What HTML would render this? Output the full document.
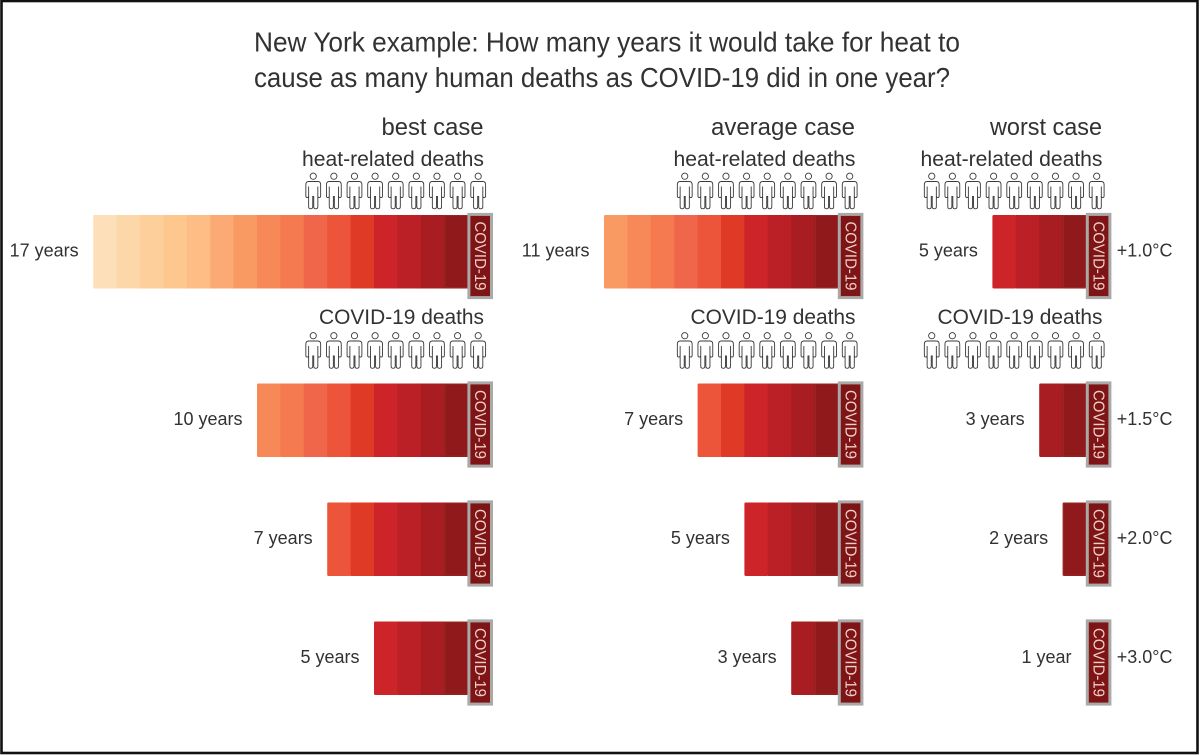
<!DOCTYPE html>
<html>
<head>
<meta charset="utf-8">
<title>New York example: heat vs COVID-19 deaths</title>
<style>
html,body{margin:0;padding:0;background:#fff;}
svg{display:block;}
text{font-family:"Liberation Sans",sans-serif;fill:#333132;}
</style>
</head>
<body>
<svg id="chart" xmlns="http://www.w3.org/2000/svg" width="1200" height="755" viewBox="0 0 1200 755">
  <rect x="0" y="0" width="1200" height="755" fill="#fff"/>
  <rect x="1.5" y="1" width="1196" height="752" fill="none" stroke="#111" stroke-width="2.6"/>
  <text x="254" y="51.5" font-size="28" textLength="706" lengthAdjust="spacingAndGlyphs">New York example: How many years it would take for heat to</text>
  <text x="254" y="87" font-size="28" textLength="696" lengthAdjust="spacingAndGlyphs">cause as many human deaths as COVID-19 did in one year?</text>
  <g id="panels"></g>
</svg>
<script>
const caseNames = ['best case', 'average case', 'worst case'];
const bestYears = [17, 10, 7, 5];
const averageYears = [11, 7, 5, 3];
const worstYears = [5, 3, 2, 1];
const warmingLabels = ['+1.0°C', '+1.5°C', '+2.0°C', '+3.0°C'];
const peopleCount = 9;
const palette = ['#8f191b','#a81d21','#ba2025','#cc2428','#df3a25','#ec5539','#f0664a','#f67a50',
                 '#f78858','#f99a63','#fbaa76','#fdbd85','#fdc78e','#fdd09b','#fcd8a8','#fde0b9'];

const NS = 'http://www.w3.org/2000/svg';
const step = 23.4;
const rowTops = [215, 383.5, 502.5, 621.5];
const barH = 73.5;
const panelRight = [467.6, 838, 1086];
const panelTextRight = [484, 855.5, 1102.5];
const caseTitleLengths = [102, 144, 112];

function yearX(right, years){ return right - (years - 1) * step; }
function mk(parent, tag, attrs){
  const el = document.createElementNS(NS, tag);
  for (const k in attrs) el.setAttribute(k, attrs[k]);
  parent.appendChild(el);
  return el;
}
function drawPerson(parent, cx, top){
  const g = mk(parent, 'g', {transform:'translate(' + cx + ',' + top + ')', fill:'none', stroke:'#3a3839', 'stroke-width':'0.9'});
  
  
  mk(g, 'circle', {cx:0, cy:4.2, r:3.1});
  mk(g, 'path', {d:'M-4.5 9.5H4.5Q7.4 9.5 7.4 12.6V24Q7.4 25.6 6 25.6Q4.6 25.6 4.6 24V14.5V34.8Q4.6 36.8 2.6 36.8Q0.5 36.8 0.5 34.8V24.5H-0.5V34.8Q-0.5 36.8 -2.6 36.8Q-4.6 36.8 -4.6 34.8V14.5V24Q-4.6 25.6 -6 25.6Q-7.4 25.6 -7.4 24V12.6Q-7.4 9.5 -4.5 9.5Z'});
}
function drawPeople(parent, textRight, top){
  for (let i = 0; i < peopleCount; i++) {
    drawPerson(parent, textRight - 5.8 - (peopleCount - 1 - i) * 20.62, top);
  }
}
function drawBar(parent, right, top, years){
  const g = mk(parent, 'g', {});
  
  
  for (let i = years - 2; i >= 0; i--) {
    const x = right - (i + 1) * step;
    const seg = mk(g, 'rect', {x:x, y:top, width:step + 0.4, height:barH, fill:palette[i], rx:(i === years - 2 ? 1.2 : 0)});
    
    
  }
  if (years > 1) {
    const outline = mk(g, 'rect', {x:right - step + 0.8, y:top + 0.5, width:step, height:barH - 1.5, fill:'none', stroke:'#a0302a', 'stroke-width':'0.8', opacity:'0.7'});
    
    
  }
  const bx = mk(g, 'rect', {x:right + 1.3, y:top - 0.6, width:22.6, height:83.2, fill:'#7f1416', stroke:'#aaa9a8', 'stroke-width':'3'});
  
  
  const cx = right + 12, cy = top + 41;
  const t = mk(g, 'text', {x:0, y:0, transform:'translate(' + cx + ',' + cy + ') rotate(90)', 'font-size':'15.5', 'text-anchor':'middle', 'dominant-baseline':'central', textLength:'69', lengthAdjust:'spacingAndGlyphs'});
  t.style.fill = '#edcfc8';
  t.textContent = 'COVID-19';
  
  
}
function addText(parent, x, y, size, str, name, len){
  const attrs = {x:x, y:y, 'font-size':size, 'text-anchor':'end'};
  if (len) { attrs.textLength = len; attrs.lengthAdjust = 'spacingAndGlyphs'; }
  const t = mk(parent, 'text', attrs);
  t.textContent = str;
  
  
  return t;
}

const root = document.getElementById('panels');
const allYears = [bestYears, averageYears, worstYears];
allYears.forEach(function(series, p){
  const g = mk(root, 'g', {});
  
  
  const right = panelRight[p];
  const tr = panelTextRight[p];
  addText(g, tr - 0.5, 135, 24, caseNames[p], 'case-title', caseTitleLengths[p]);
  addText(g, tr, 166, 21, 'heat-related deaths', 'heat-deaths-heading', 182);
  drawPeople(g, tr, 172);
  addText(g, tr, 324, 21, 'COVID-19 deaths', 'covid-deaths-heading', 165);
  drawPeople(g, tr, 331.5);
  series.forEach(function(years, r){
    const top = rowTops[r];
    drawBar(g, right, top, years);
    const left = yearX(right, years);
    addText(g, left - 14.5, top + 41.5, 18, years + (years === 1 ? ' year' : ' years'), 'years-label');
    if (p === 2) {
      addText(g, 1172.5, top + 41.5, 18, warmingLabels[r], 'warming-label');
    }
  });
});
</script>
</body>
</html>
